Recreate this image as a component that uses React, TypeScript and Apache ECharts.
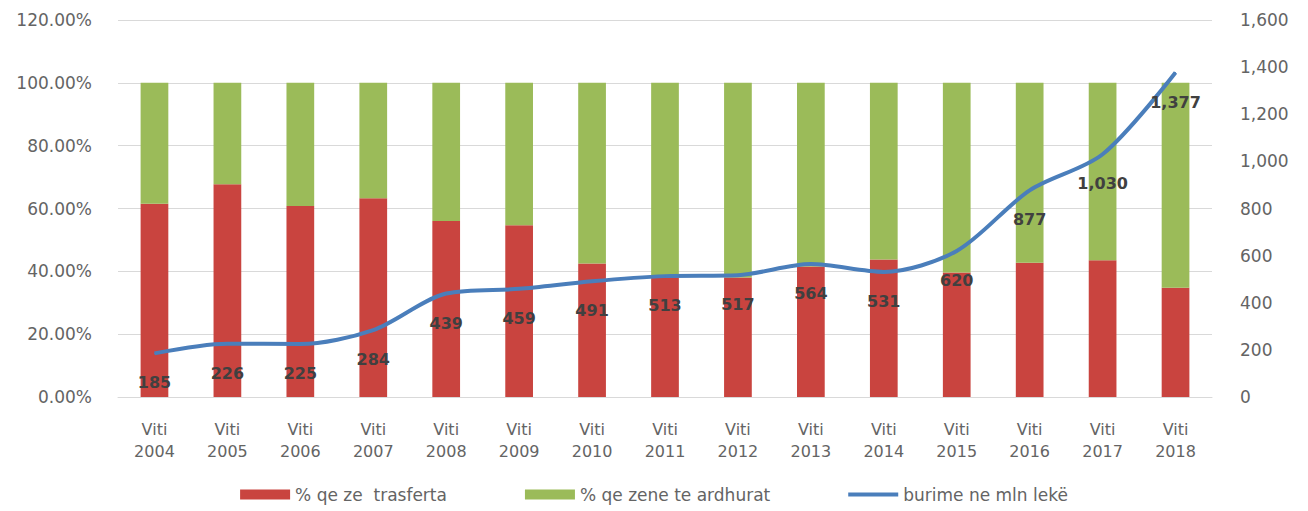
import React, { useEffect, useRef } from "react";
import * as echarts from "echarts";

const categories = ["Viti\n2004","Viti\n2005","Viti\n2006","Viti\n2007","Viti\n2008","Viti\n2009","Viti\n2010","Viti\n2011","Viti\n2012","Viti\n2013","Viti\n2014","Viti\n2015","Viti\n2016","Viti\n2017","Viti\n2018"];
const transferShare = [0.615, 0.677, 0.608, 0.633, 0.56, 0.547, 0.425, 0.38, 0.38, 0.415, 0.438, 0.396, 0.427, 0.435, 0.348];
const revenueShare = transferShare.map((v) => +(1 - v).toFixed(3));
const fundsMln = [185, 226, 225, 284, 439, 459, 491, 513, 517, 564, 531, 620, 877, 1030, 1377];
const seriesNames = ["% qe ze  trasferta", "% qe zene te ardhurat", "burime ne mln lekë"];

const FONT = "'DejaVu Sans', 'Open Sans', sans-serif";
const TEXT = "#646464";

export default function App() {
  const ref = useRef<HTMLDivElement>(null);
  useEffect(() => {
    if (!ref.current) return;
    const chart = echarts.init(ref.current, null, { renderer: "svg" });
    chart.setOption({
      animation: false,
      textStyle: { fontFamily: FONT },
      grid: { left: 118, right: 96, top: 20, bottom: 114, containLabel: false },
      legend: {
        top: 481,
        left: "center",
        itemWidth: 50,
        itemHeight: 10,
        itemGap: 78,
        textStyle: { color: TEXT, fontSize: 17, fontFamily: FONT },
        data: [
          { name: seriesNames[0], icon: "rect" },
          { name: seriesNames[1], icon: "rect" },
          { name: seriesNames[2], icon: "path://M0,0H60V5H0Z" },
        ],
      },
      xAxis: {
        type: "category",
        data: categories,
        axisTick: { show: false },
        axisLine: { lineStyle: { color: "#d9d9d9" } },
        axisLabel: { color: TEXT, fontSize: 16, lineHeight: 22, margin: 21, interval: 0 },
      },
      yAxis: [
        {
          type: "value",
          min: 0,
          max: 1.2,
          interval: 0.2,
          axisLabel: {
            color: TEXT,
            fontSize: 17,
            margin: 26,
            formatter: (v: number) => (v * 100).toFixed(2) + "%",
          },
          splitLine: { lineStyle: { color: "#d9d9d9" } },
          axisLine: { show: false },
          axisTick: { show: false },
        },
        {
          type: "value",
          min: 0,
          max: 1600,
          interval: 200,
          position: "right",
          axisLabel: {
            color: TEXT,
            fontSize: 17,
            margin: 28,
            formatter: (v: number) => v.toLocaleString("en-US"),
          },
          splitLine: { show: false },
          axisLine: { show: false },
          axisTick: { show: false },
        },
      ],
      series: [
        {
          name: seriesNames[0],
          type: "bar",
          stack: "share",
          barWidth: "38%",
          data: transferShare,
          itemStyle: { color: "#c9443f" },
        },
        {
          name: seriesNames[1],
          type: "bar",
          stack: "share",
          barWidth: "38%",
          data: revenueShare,
          itemStyle: { color: "#9bbb59" },
        },
        {
          name: seriesNames[2],
          type: "line",
          yAxisIndex: 1,
          smooth: 0.3,
          data: fundsMln,
          symbol: "circle",
          symbolSize: 1,
          lineStyle: { color: "#4a7ebb", width: 4 },
          itemStyle: { color: "#4a7ebb" },
          label: {
            show: true,
            position: "bottom",
            distance: 21,
            color: "#404040",
            fontWeight: "bold",
            fontSize: 16,
            fontFamily: FONT,
            formatter: (p: any) => Number(p.value).toLocaleString("en-US"),
          },
          z: 5,
        },
      ],
    });
    return () => chart.dispose();
  }, []);
  return (
    <div
      ref={ref}
      style={{ position: "fixed", left: 0, top: 0, width: 1308, height: 511, background: "#fff" }}
    />
  );
}
